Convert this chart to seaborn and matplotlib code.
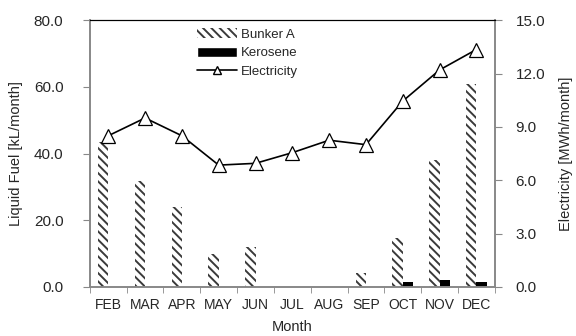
import numpy as np
import pandas as pd
import seaborn as sns
import matplotlib
matplotlib.use("Agg")
from matplotlib import pyplot as plt
from matplotlib.patches import Patch
from matplotlib.lines import Line2D
from matplotlib.ticker import FormatStrFormatter, MultipleLocator, FixedLocator

months = ["FEB", "MAR", "APR", "MAY", "JUN", "JUL", "AUG", "SEP", "OCT", "NOV", "DEC"]
bunker_a = [43.5, 31.8, 24.0, 10.0, 12.0, 0.0, 0.0, 4.2, 14.8, 38.0, 61.0]
kerosene = [0.0, 0.0, 0.0, 0.0, 0.0, 0.0, 0.0, 0.0, 1.5, 2.0, 1.4]
electricity = [8.5, 9.5, 8.5, 6.85, 6.95, 7.55, 8.25, 8.0, 10.45, 12.2, 13.35]

fuel = pd.DataFrame({
    "Month": months * 2,
    "Fuel": ["Bunker A"] * len(months) + ["Kerosene"] * len(months),
    "Value": bunker_a + kerosene,
})
elec = pd.DataFrame({"Month": months, "Electricity": electricity})

sns.set_style("white")
plt.rcParams["font.family"] = ["Liberation Sans", "DejaVu Sans"]
plt.rcParams["hatch.color"] = "#3a3a3a"
plt.rcParams["hatch.linewidth"] = 1.4

fig = plt.figure(figsize=(5.76, 3.36), dpi=100)
ax = fig.add_axes([0.156, 0.146, 0.703, 0.794])

sns.barplot(data=fuel, x="Month", y="Value", hue="Fuel", order=months,
            palette=["white", "black"], width=0.56, ax=ax, legend=False,
            saturation=1, linewidth=0)
for bar in ax.containers[0]:
    bar.set_hatch("\\\\\\\\")
    bar.set_edgecolor("#3a3a3a")
    bar.set_linewidth(0)

ax2 = ax.twinx()
sns.lineplot(data=elec, x="Month", y="Electricity", ax=ax2, sort=False,
             color="black", linewidth=1.2, marker="^", markersize=10,
             markerfacecolor="white", markeredgecolor="black", markeredgewidth=0.9)

ax.set_xlim(-0.5, len(months) - 0.5)
ax.set_ylim(0, 80)
ax2.set_ylim(0, 15)
ax.yaxis.set_major_locator(MultipleLocator(20))
ax.yaxis.set_major_formatter(FormatStrFormatter("%.1f"))
ax2.yaxis.set_major_locator(MultipleLocator(3))
ax2.yaxis.set_major_formatter(FormatStrFormatter("%.1f"))

ax.set_xlabel("Month", fontsize=10.5, labelpad=6)
ax.set_ylabel("Liquid Fuel [kL/month]", fontsize=10.5, labelpad=8)
ax2.set_ylabel("Electricity [MWh/month]", fontsize=10.5, labelpad=10)

ax.xaxis.set_minor_locator(FixedLocator(np.arange(-0.5, len(months), 1.0)))
ax.tick_params(axis="x", which="major", length=0, labelsize=10, pad=8)
ax.tick_params(axis="x", which="minor", length=4, color="#888888", direction="out", bottom=True)
ax.tick_params(axis="y", labelsize=11, length=5, color="#888888", left=True, direction="out", pad=14)
ax2.tick_params(axis="y", labelsize=11, length=5, color="#888888", right=True, direction="out", pad=10)

for a in (ax, ax2):
    for side in ("left", "right", "bottom"):
        a.spines[side].set_color("#888888")
        a.spines[side].set_linewidth(1.2)
    a.spines["top"].set_color("black")
    a.spines["top"].set_linewidth(0.8)

handles = [
    Patch(facecolor="white", edgecolor="#3a3a3a", hatch="\\\\\\\\", linewidth=0, label="Bunker A"),
    Patch(facecolor="black", label="Kerosene"),
    Line2D([], [], color="black", linewidth=1.2, marker="^", markersize=6,
           markerfacecolor="white", markeredgecolor="black", label="Electricity"),
]
ax.legend(handles=handles, loc="upper left", bbox_to_anchor=(0.245, 1.0), frameon=False,
          fontsize=9.5, handlelength=3.0, handleheight=0.8, labelspacing=0.45,
          borderaxespad=0.2, handletextpad=0.3)

fig.savefig("out.png", dpi=100)
